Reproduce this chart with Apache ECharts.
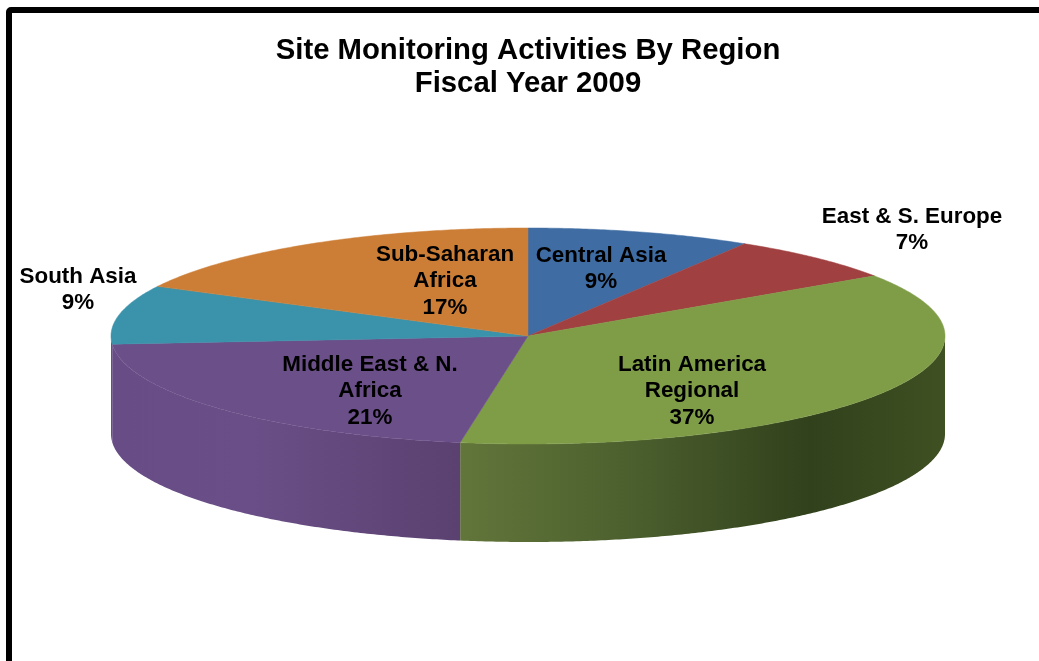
<!DOCTYPE html>
<html>
<head>
<meta charset="utf-8">
<style>html,body{margin:0;padding:0;background:#fff}#main{width:1039px;height:661px}</style>
<script src="https://cdn.jsdelivr.net/npm/echarts@6/dist/echarts.min.js"></script>
</head>
<body>
<div id="main"></div>
<script>
var categories = ['Central Asia', 'East & S. Europe', 'Latin America\nRegional', 'Middle East & N.\nAfrica', 'South Asia', 'Sub-Saharan\nAfrica'];
// the labels show these rounded
var shares = [8.7, 6.9, 37.0, 21.2, 8.8, 17.4];
var titleLines = ['Site Monitoring Activities By Region', 'Fiscal Year 2009'];

var topColors = ['#3F6CA3', '#A04040', '#7F9C47', '#6B4F89', '#3A93AB', '#CC7E37'];
// label centres, same order as categories
var labelPos = [[601, 269], [912, 230], [692, 391], [370, 391], [78, 290], [445, 281]];

var cx = 528, cy = 336, rx = 417, ry = 108, depth = 98;
var font = '"Liberation Sans", Arial, sans-serif';

var total = shares.reduce(function (a, b) { return a + b; }, 0);

// clockwise from 12 o'clock, in degrees
function sliceRange(idx) {
    var before = 0;
    for (var i = 0; i < idx; i++) before += shares[i];
    return [before / total * 360, (before + shares[idx]) / total * 360];
}
function rimPoint(deg, dy) {
    var a = deg * Math.PI / 180;
    return [cx + rx * Math.sin(a), cy - ry * Math.cos(a) + (dy || 0)];
}

var sideFills = {
    2: [[0, '#62753A'], [0.3, '#4F6330'], [0.72, '#31411C'], [1, '#3F5022']],
    3: [[0, '#684C85'], [0.4, '#6A4E87'], [1, '#5A4170']],
    4: [[0, '#684C85'], [1, '#684C85']]
};

function renderSide(params, api) {
    var idx = api.value(0);
    var range = sliceRange(idx);
    var from = Math.max(range[0], 90), to = Math.min(range[1], 270);
    if (from >= to) return null;
    var pts = [], d;
    for (d = from; d < to; d += 0.5) pts.push(rimPoint(d));
    pts.push(rimPoint(to));
    for (d = to; d > from; d -= 0.5) pts.push(rimPoint(d, depth));
    pts.push(rimPoint(from, depth));
    return {
        type: 'polygon',
        shape: { points: pts },
        style: {
            fill: {
                type: 'linear', x: 0, y: 0, x2: 1, y2: 0,
                colorStops: sideFills[idx].map(function (s) { return { offset: s[0], color: s[1] }; })
            }
        }
    };
}

function renderTop(params, api) {
    var idx = api.value(0);
    var range = sliceRange(idx);
    var pts = [[cx, cy]];
    for (var d = range[0]; d < range[1]; d += 0.5) pts.push(rimPoint(d));
    pts.push(rimPoint(range[1]));
    return {
        type: 'polygon',
        shape: { points: pts },
        style: { fill: topColors[idx], stroke: topColors[idx], lineWidth: 0.5 }
    };
}

function renderLabel(params, api) {
    var idx = api.value(0);
    return {
        type: 'text',
        style: {
            x: labelPos[idx][0],
            y: labelPos[idx][1],
            text: categories[idx] + '\n' + Math.round(shares[idx]) + '%',
            align: 'center',
            verticalAlign: 'middle',
            fill: '#000',
            font: 'bold 22.4px ' + font,
            lineHeight: 26.5
        }
    };
}

var indexData = shares.map(function (v, i) { return [i, v]; });

var option = {
    backgroundColor: '#fff',
    animation: false,
    title: {
        text: titleLines.join('\n'),
        left: 528,
        top: 34,
        padding: 0,
        textAlign: 'center',
        textStyle: { fontFamily: font, fontWeight: 'bold', fontSize: 29.3, lineHeight: 33, color: '#000' }
    },
    graphic: [{
        type: 'rect',
        shape: { x: 9, y: 10, width: 1200, height: 900, r: 2 },
        style: { fill: 'none', stroke: '#000', lineWidth: 6 },
        silent: true
    }],
    series: [
        { type: 'custom', coordinateSystem: 'none', data: indexData, renderItem: renderSide, silent: true, z: 2 },
        { type: 'custom', coordinateSystem: 'none', data: indexData, renderItem: renderTop, silent: true, z: 3 },
        { type: 'custom', coordinateSystem: 'none', data: indexData, renderItem: renderLabel, silent: true, z: 4 }
    ]
};

var myChart = echarts.init(document.getElementById('main'));
myChart.setOption(option);
</script>
</body>
</html>
